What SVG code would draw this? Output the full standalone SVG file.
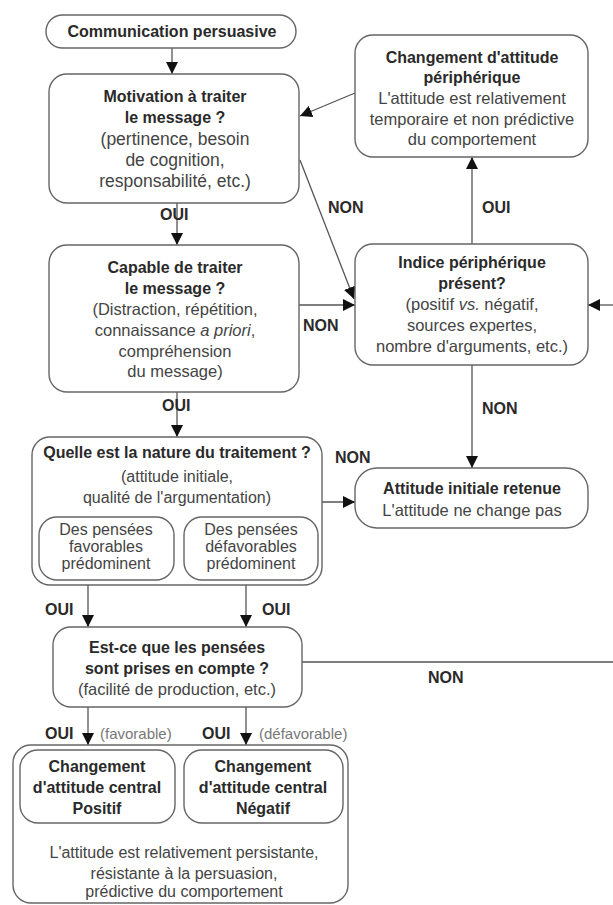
<svg xmlns="http://www.w3.org/2000/svg" width="613" height="905" viewBox="0 0 613 905">
<style>
text{font-family:"Liberation Sans",Arial,sans-serif;text-anchor:middle}
.b{font-weight:bold;font-size:16px;fill:#2a2a2a}
.r{font-size:16.5px;fill:#444}
.rl{font-size:17.5px;fill:#444}
.rs{font-size:16px;fill:#444}
.s{font-size:16px;fill:#444}
.lab{font-weight:bold;font-size:16px;fill:#2a2a2a;text-anchor:start}
.g{font-size:15px;fill:#777;text-anchor:start}
.box{fill:#fff;stroke:#666;stroke-width:1.4}
.ln{fill:none;stroke:#555;stroke-width:1.3}
</style>
<defs>
<marker id="ah" markerWidth="12" markerHeight="12" viewBox="0 0 12 12" refX="12" refY="6" orient="auto" markerUnits="userSpaceOnUse">
<path d="M0,0 L12,6 L0,12 Z" fill="#111"/>
</marker>
</defs>
<rect width="613" height="905" fill="#fff"/>

<g id="connectors">
<line class="ln" x1="172" y1="48" x2="172" y2="74" marker-end="url(#ah)"/>
<line class="ln" x1="177" y1="203" x2="177" y2="245" marker-end="url(#ah)"/>
<line class="ln" x1="177" y1="392" x2="177" y2="437" marker-end="url(#ah)"/>
<line class="ln" x1="88" y1="585" x2="88" y2="627" marker-end="url(#ah)"/>
<line class="ln" x1="246" y1="585" x2="246" y2="627" marker-end="url(#ah)"/>
<line class="ln" x1="88" y1="707" x2="88" y2="745" marker-end="url(#ah)"/>
<line class="ln" x1="246" y1="707" x2="246" y2="745" marker-end="url(#ah)"/>
<line class="ln" x1="355" y1="93" x2="300" y2="116" marker-end="url(#ah)"/>
<line class="ln" x1="300" y1="160" x2="354" y2="299" marker-end="url(#ah)"/>
<line class="ln" x1="299" y1="305" x2="355" y2="305" marker-end="url(#ah)"/>
<line class="ln" x1="613" y1="305" x2="588" y2="305" marker-end="url(#ah)"/>
<line class="ln" x1="472" y1="244" x2="472" y2="157" marker-end="url(#ah)"/>
<line class="ln" x1="472" y1="365" x2="472" y2="468" marker-end="url(#ah)"/>
<line class="ln" x1="322" y1="502" x2="355" y2="502" marker-end="url(#ah)"/>
<line class="ln" x1="302" y1="662" x2="613" y2="662"/>
<text class="lab" x="160" y="220">OUI</text>
<text class="lab" x="328" y="213">NON</text>
<text class="lab" x="482" y="213">OUI</text>
<text class="lab" x="303" y="331">NON</text>
<text class="lab" x="162" y="411">OUI</text>
<text class="lab" x="482" y="414">NON</text>
<text class="lab" x="335" y="463">NON</text>
<text class="lab" x="45" y="615">OUI</text>
<text class="lab" x="262" y="615">OUI</text>
<text class="lab" x="428" y="683">NON</text>
<text class="lab" x="45" y="739">OUI</text>
<text class="g" x="100" y="739">(favorable)</text>
<text class="lab" x="202" y="739">OUI</text>
<text class="g" x="259" y="739">(défavorable)</text>
</g>

<g id="communication">
<rect class="box" x="46" y="15" width="250" height="33" rx="16.5"/>
<text class="b" x="172" y="37">Communication persuasive</text>
</g>

<g id="motivation">
<rect class="box" x="49" y="74" width="250" height="129" rx="18"/>
<text class="b" x="175" y="102">Motivation à traiter</text>
<text class="b" x="175" y="123">le message ?</text>
<text class="rl" x="175" y="145">(pertinence, besoin</text>
<text class="rl" x="175" y="166">de cognition,</text>
<text class="rl" x="175" y="187">responsabilité, etc.)</text>
</g>

<g id="capable">
<rect class="box" x="49" y="245" width="250" height="147" rx="18"/>
<text class="b" x="175" y="273">Capable de traiter</text>
<text class="b" x="175" y="294">le message ?</text>
<text class="r" x="175" y="315">(Distraction, répétition,</text>
<text class="r" x="175" y="336">connaissance <tspan font-style="italic">a priori</tspan>,</text>
<text class="r" x="175" y="357">compréhension</text>
<text class="r" x="175" y="377">du message)</text>
</g>

<g id="nature">
<rect class="box" x="32" y="437" width="290" height="148" rx="18"/>
<text class="b" x="177" y="458">Quelle est la nature du traitement ?</text>
<text class="rs" x="177" y="482">(attitude initiale,</text>
<text class="rs" x="177" y="503">qualité de l'argumentation)</text>
<g id="favorables">
<rect class="box" x="39" y="517" width="135" height="63" rx="18"/>
<text class="s" x="106" y="535">Des pensées</text>
<text class="s" x="106" y="552">favorables</text>
<text class="s" x="106" y="569">prédominent</text>
</g>
<g id="defavorables">
<rect class="box" x="184" y="517" width="134" height="63" rx="18"/>
<text class="s" x="251" y="535">Des pensées</text>
<text class="s" x="251" y="552">défavorables</text>
<text class="s" x="251" y="569">prédominent</text>
</g>
</g>

<g id="prises">
<rect class="box" x="53" y="627" width="249" height="80" rx="18"/>
<text class="b" x="177" y="653">Est-ce que les pensées</text>
<text class="b" x="177" y="674">sont prises en compte ?</text>
<text class="r" x="177" y="695">(facilité de production, etc.)</text>
</g>

<g id="central">
<rect class="box" x="13" y="745" width="335" height="158" rx="18"/>
<g id="positif">
<rect class="box" x="20" y="750" width="155" height="73" rx="18"/>
<text class="b" x="97" y="772">Changement</text>
<text class="b" x="97" y="793">d'attitude central</text>
<text class="b" x="97" y="814">Positif</text>
</g>
<g id="negatif">
<rect class="box" x="184" y="750" width="159" height="73" rx="18"/>
<text class="b" x="263" y="772">Changement</text>
<text class="b" x="263" y="793">d'attitude central</text>
<text class="b" x="263" y="814">Négatif</text>
</g>
<text class="rs" x="184" y="858">L'attitude est relativement persistante,</text>
<text class="rs" x="184" y="879">résistante à la persuasion,</text>
<text class="rs" x="184" y="897">prédictive du comportement</text>
</g>

<g id="peripherique">
<rect class="box" x="355" y="35" width="233" height="122" rx="18"/>
<text class="b" x="472" y="63">Changement d'attitude</text>
<text class="b" x="472" y="83">périphérique</text>
<text class="r" x="472" y="104">L'attitude est relativement</text>
<text class="r" x="472" y="125">temporaire et non prédictive</text>
<text class="r" x="472" y="145">du comportement</text>
</g>

<g id="indice">
<rect class="box" x="355" y="244" width="233" height="121" rx="18"/>
<text class="b" x="472" y="268">Indice périphérique</text>
<text class="b" x="472" y="289">présent?</text>
<text class="r" x="472" y="310">(positif <tspan font-style="italic">vs.</tspan> négatif,</text>
<text class="r" x="472" y="331">sources expertes,</text>
<text class="r" x="472" y="352">nombre d'arguments, etc.)</text>
</g>

<g id="initiale">
<rect class="box" x="355" y="468" width="233" height="60" rx="22"/>
<text class="b" x="472" y="494">Attitude initiale retenue</text>
<text class="r" x="472" y="516">L'attitude ne change pas</text>
</g>
</svg>
